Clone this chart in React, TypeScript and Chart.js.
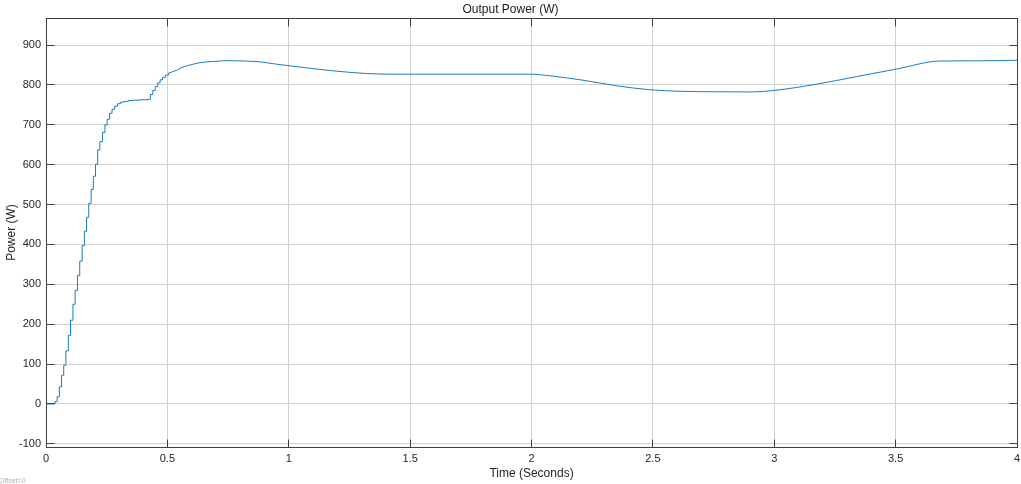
import React, { useEffect, useRef } from 'react';
import { Chart, registerables } from 'chart.js';

Chart.register(...registerables);

// Staircase start-up phase (time of each step, power after the step)
const rampTime = [
  0, 0.037, 0.046, 0.055, 0.064, 0.073, 0.082, 0.092, 0.101, 0.111, 0.12,
  0.13, 0.139, 0.149, 0.158, 0.167, 0.176, 0.186, 0.195, 0.204, 0.213,
  0.222, 0.233, 0.243, 0.252, 0.262, 0.272, 0.283, 0.295, 0.308, 0.322,
  0.34, 0.36, 0.39, 0.42, 0.43, 0.44, 0.45, 0.46, 0.47, 0.48, 0.492, 0.505,
];
const rampPower = [
  0, 6, 18, 43, 72, 97, 133, 172, 210, 250, 285,
  322, 358, 397, 433, 468, 503, 538, 571, 601, 637,
  658, 681, 700, 714, 729, 739, 747, 753, 757, 759,
  761, 762, 763, 764, 776, 786, 796, 805, 813, 819, 825, 830,
];

// Smooth phase
const smoothTime = [
  0.505, 0.538, 0.552, 0.593, 0.634, 0.69, 0.744, 0.82, 0.881, 0.94, 1.005,
  1.128, 1.265, 1.376, 1.5, 1.705, 1.85, 2.0, 2.076, 2.212, 2.35, 2.488,
  2.625, 2.75, 2.9, 2.995, 3.174, 3.339, 3.504, 3.682, 3.82, 4.0,
];
const smoothPower = [
  830, 837, 842, 850, 856, 859, 861, 860, 858, 853, 848,
  839, 831, 827.5, 827, 827, 827, 827, 823, 812, 798, 788,
  784, 783, 782.5, 786, 802, 821, 840, 860, 860.5, 862,
];

const xTicks = [0, 0.5, 1, 1.5, 2, 2.5, 3, 3.5, 4];
const yTicks = [-100, 0, 100, 200, 300, 400, 500, 600, 700, 800, 900];

const FONT = '"Liberation Sans", Arial, Helvetica, sans-serif';
const TEXT = '#262626';
const GRID = '#d2d2d2';
const LINE = '#1a7cc0';

function align(p: number) {
  return Math.round(p - 0.5) + 0.5;
}

export default function App() {
  const ref = useRef<HTMLCanvasElement>(null);

  useEffect(() => {
    if (!ref.current) return;
    const boxPlugin = {
      id: 'matlabBox',
      afterDraw(chart: any) {
        const { ctx, chartArea, scales } = chart;
        const L = align(chartArea.left);
        const R = align(chartArea.right);
        const T = align(chartArea.top);
        const B = align(chartArea.bottom);
        ctx.save();
        ctx.strokeStyle = '#404040';
        ctx.lineWidth = 1;
        ctx.strokeRect(L, T, R - L, B - T);
        const tl = 8;
        ctx.beginPath();
        for (const v of xTicks) {
          const px = align(scales.x.getPixelForValue(v));
          ctx.moveTo(px, B);
          ctx.lineTo(px, B - tl);
          ctx.moveTo(px, T);
          ctx.lineTo(px, T + tl);
        }
        for (const v of yTicks) {
          const py = align(scales.y.getPixelForValue(v));
          ctx.moveTo(L, py);
          ctx.lineTo(L + tl, py);
          ctx.moveTo(R, py);
          ctx.lineTo(R - tl, py);
        }
        ctx.stroke();
        ctx.fillStyle = '#b0b0b0';
        ctx.font = '7px ' + FONT;
        ctx.textAlign = 'left';
        ctx.textBaseline = 'alphabetic';
        ctx.fillText('Offset=0', -1, 483);
        ctx.restore();
      },
    };

    const chart = new Chart(ref.current, {
      type: 'line',
      data: {
        datasets: [
          {
            data: rampTime.map((t, i) => ({ x: t, y: rampPower[i] })),
            borderColor: LINE,
            borderWidth: 1,
            pointRadius: 0,
            stepped: 'before',
            fill: false,
          },
          {
            data: smoothTime.map((t, i) => ({ x: t, y: smoothPower[i] })),
            borderColor: LINE,
            borderWidth: 1,
            pointRadius: 0,
            cubicInterpolationMode: 'monotone',
            fill: false,
          },
        ],
      },
      options: {
        responsive: false,
        animation: false,
        layout: { padding: { left: 0, right: 0, top: 0, bottom: 0 } },
        plugins: {
          legend: { display: false },
          tooltip: { enabled: false },
          title: {
            display: true,
            text: 'Output Power (W)',
            color: '#1a1a1a',
            font: { family: FONT, size: 12, weight: 'normal' },
            padding: { top: 2, bottom: 1.6 },
          },
        },
        scales: {
          x: {
            type: 'linear',
            min: 0,
            max: 4,
            afterBuildTicks: (s: any) => {
              s.ticks = xTicks.map((v) => ({ value: v }));
            },
            afterFit: (s: any) => {
              s.height = 37;
              s.paddingRight = 4;
              s.paddingLeft = 0;
            },
            ticks: {
              color: TEXT,
              font: { family: FONT, size: 11 },
              padding: 5,
              autoSkip: false,
              maxRotation: 0,
              callback: (v: any) => String(v),
            },
            grid: { color: GRID, lineWidth: 1, drawTicks: false },
            border: { display: false },
            title: {
              display: true,
              text: 'Time (Seconds)',
              color: TEXT,
              font: { family: FONT, size: 12 },
              padding: { top: 0, bottom: 3 },
            },
          },
          y: {
            type: 'linear',
            min: -108,
            max: 968,
            afterBuildTicks: (s: any) => {
              s.ticks = yTicks.map((v) => ({ value: v }));
            },
            afterFit: (s: any) => {
              s.width = 46;
              s.paddingTop = 0;
              s.paddingBottom = 0;
            },
            ticks: {
              color: TEXT,
              font: { family: FONT, size: 11 },
              padding: 5,
              autoSkip: false,
              callback: (v: any) => String(v),
            },
            grid: { color: GRID, lineWidth: 1, drawTicks: false },
            border: { display: false },
            title: {
              display: true,
              text: 'Power (W)',
              color: TEXT,
              font: { family: FONT, size: 12 },
              padding: { top: 4, bottom: 0 },
            },
          },
        },
      },
      plugins: [boxPlugin],
    } as any);

    return () => chart.destroy();
  }, []);

  return (
    <div style={{ position: 'fixed', left: 0, top: 0, width: 1021, height: 484, background: '#fff' }}>
      <canvas ref={ref} width={1021} height={484} style={{ display: 'block' }} />
    </div>
  );
}
